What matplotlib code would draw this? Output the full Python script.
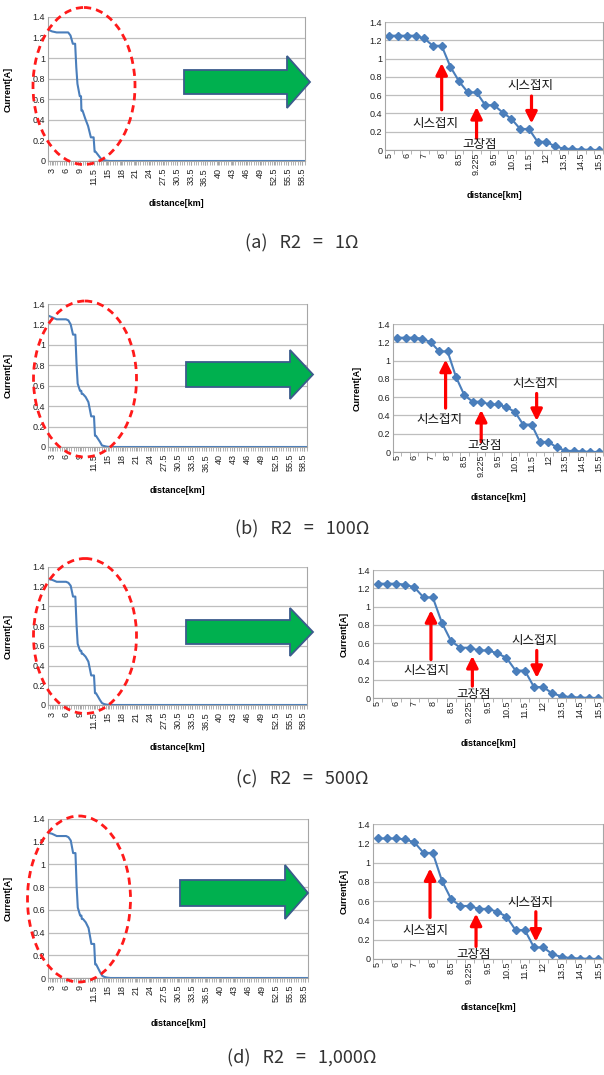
import numpy as np
import matplotlib
matplotlib.use('Agg')
import matplotlib.pyplot as plt
from matplotlib.patches import Ellipse, Polygon, FancyArrowPatch
from matplotlib.transforms import Affine2D
from matplotlib.ticker import FixedLocator, FuncFormatter

W, H = 604, 1075
plt.rcParams['font.family'] = ['Liberation Sans', 'Noto Sans CJK KR', 'DejaVu Sans']

# zoomed-in section (right charts), category axis
near_labels = ['5', '5.5', '6', '6.5', '7', '7.5', '8', '8.25', '8.5', '9', '9.225', '9.3', '9.5',
               '10', '10.5', '11', '11.5', '11.75', '12', '13', '13.5', '14', '14.5', '15', '15.5']
near_a = [1.25, 1.25, 1.25, 1.25, 1.22, 1.14, 1.14, 0.91, 0.75, 0.63, 0.63, 0.49, 0.49,
          0.41, 0.34, 0.23, 0.23, 0.09, 0.09, 0.04, 0.015, 0.01, 0.005, 0.002, 0.0]
near_b = [1.25, 1.25, 1.25, 1.24, 1.20, 1.10, 1.10, 0.82, 0.62, 0.55, 0.55, 0.52, 0.52,
          0.49, 0.44, 0.30, 0.30, 0.11, 0.11, 0.05, 0.015, 0.01, 0.005, 0.002, 0.0]
near_c = [1.25, 1.25, 1.25, 1.24, 1.21, 1.10, 1.10, 0.82, 0.62, 0.55, 0.55, 0.52, 0.52,
          0.49, 0.44, 0.30, 0.30, 0.12, 0.12, 0.05, 0.02, 0.01, 0.005, 0.002, 0.0]
near_d = [1.25, 1.25, 1.25, 1.24, 1.21, 1.10, 1.10, 0.81, 0.62, 0.55, 0.55, 0.52, 0.52,
          0.49, 0.44, 0.30, 0.30, 0.12, 0.12, 0.05, 0.02, 0.01, 0.005, 0.002, 0.0]

# full line (left charts)
left_ticks = [3, 6, 9, 11.5, 15, 18, 21, 24, 27.5, 30.5, 33.5, 36.5, 40, 43, 46, 49, 52.5, 55.5, 58.5]
head_dist = [2.0, 3.0, 4.0]
head_a = [1.28, 1.26, 1.25]
head_b = [1.29, 1.27, 1.25]
head_c = [1.28, 1.27, 1.25]
head_d = [1.28, 1.27, 1.25]
tail_dist = [16.0, 59.0]
tail_cur = [0.0, 0.0]

captions = ['(a)   R2   =   1\u03a9', '(b)   R2   =   100\u03a9',
            '(c)   R2   =   500\u03a9', '(d)   R2   =   1,000\u03a9']

# annotation spots: (x category, y) for sheath-ground up, fault, sheath-ground down
up_arrow = [(6.0, 0.44, 0.95), (5.76, 0.48, 1.01), (5.8, 0.42, 0.96), (5.7, 0.43, 0.94)]
up_text = [(5.3, 0.29), (5.0, 0.35), (5.3, 0.30), (5.2, 0.30)]
fault_arrow = [(10.0, 0.13, 0.47), (10.0, 0.11, 0.46), (10.3, 0.13, 0.46), (10.7, 0.13, 0.47)]
fault_text = [(10.4, 0.065), (10.4, 0.066), (10.4, 0.035), (10.4, 0.05)]
down_arrow = [(16.3, 0.59, 0.29), (16.6, 0.64, 0.34), (17.3, 0.52, 0.22), (17.2, 0.49, 0.18)]
down_text = [(16.2, 0.70), (16.4, 0.75), (17.1, 0.63), (16.6, 0.59)]

# layout in pixels (from top-left)
left_box = [(48, 305, 17, 161), (48, 307, 304, 447), (48, 307, 567, 705), (48, 308, 819, 978)]
right_box = [(385, 603, 22, 150), (393, 603, 324, 452), (373, 603, 570, 698), (373, 603, 824, 959)]
right_ylab = [None, 362, 349, 349]
left_xlab = [204, 491, 748, 1024]
right_xlab = [196, 497, 744, 1007]
ellipses = [(84, 86, 102, 157), (85, 379, 103, 156), (85, 636, 103, 155), (79, 899, 103, 166)]
green = [(184, 287, 70, 94, 56, 108, 310), (186, 290, 362, 387, 350, 399, 313),
         (186, 290, 620, 644, 608, 656, 313), (180, 285, 880, 906, 865, 919, 308)]
cap_y = [243, 529, 779, 1058]

LINE = '#4A7EBB'
GRID = '#BEBEBE'
SPINE = '#A6A6A6'

tick_idx = np.arange(len(left_ticks), dtype=float)
lt = np.array(left_ticks, dtype=float)


def fwd(x):
    x = np.asarray(x, float)
    y = np.interp(x, lt, tick_idx)
    lo = (x - lt[0]) / (lt[1] - lt[0])
    hi = tick_idx[-1] + (x - lt[-1]) / (lt[-1] - lt[-2])
    return np.where(x < lt[0], lo, np.where(x > lt[-1], hi, y))


def inv(u):
    u = np.asarray(u, float)
    x = np.interp(u, tick_idx, lt)
    lo = lt[0] + u * (lt[1] - lt[0])
    hi = lt[-1] + (u - tick_idx[-1]) * (lt[-1] - lt[-2])
    return np.where(u < 0, lo, np.where(u > tick_idx[-1], hi, x))


def box(b):
    x0, x1, y0, y1 = b
    return [x0 / W, 1 - y1 / H, (x1 - x0) / W, (y1 - y0) / H]


def style(ax):
    ax.set_ylim(0, 1.4)
    ax.set_yticks(np.arange(0, 1.41, 0.2))
    ax.yaxis.set_major_formatter(FuncFormatter(lambda v, p: f'{v:g}'))
    ax.grid(axis='y', color=GRID, lw=0.9)
    ax.set_axisbelow(True)
    for s in ax.spines.values():
        s.set_color(SPINE)
        s.set_linewidth(0.8)
    ax.spines['top'].set_visible(False)
    ax.tick_params(axis='y', length=0, labelsize=6.5, pad=2, labelcolor='#222222')
    ax.tick_params(axis='x', which='both', length=3, color=SPINE, labelsize=6.5,
                   labelcolor='#222222', pad=2)


fig = plt.figure(figsize=(W / 100, H / 100), dpi=100)
px = Affine2D().scale(1 / W, -1 / H).translate(0, 1) + fig.transFigure

heads = [head_a, head_b, head_c, head_d]
nears = [near_a, near_b, near_c, near_d]
near_dist = [float(s) for s in near_labels]
idx = np.arange(len(near_labels))

for i in range(4):
    # left: whole cable
    axL = fig.add_axes(box(left_box[i]))
    style(axL)
    dist = head_dist + near_dist + tail_dist
    cur = heads[i] + nears[i] + tail_cur
    axL.plot(dist, cur, color=LINE, lw=1.5)
    axL.set_xscale('function', functions=(fwd, inv))
    axL.set_xlim(float(inv(-0.29)), float(inv(18.24)))
    axL.set_xticks(left_ticks)
    axL.set_xticklabels([f'{v:g}' for v in left_ticks], rotation=90)
    axL.xaxis.set_minor_locator(FixedLocator(inv(np.arange(-0.29, 18.24, 1 / 6))))
    axL.set_ylabel('Current[A]', fontsize=6.5, fontweight='bold')
    axL.yaxis.set_label_coords(-(48 - 13) / (left_box[i][1] - 48), 0.5)
    axL.set_xlabel('distance[km]', fontsize=6.5, fontweight='bold')
    b = left_box[i]
    axL.xaxis.set_label_coords(0.5, -(left_xlab[i] - b[3]) / (b[3] - b[2]))
    axL.xaxis.label.set_va('center')

    # right: zoomed section
    axR = fig.add_axes(box(right_box[i]))
    style(axR)
    axR.plot(idx, nears[i], color=LINE, lw=1.5, marker='D', ms=3.6)
    axR.set_xlim(-0.5, len(idx) - 0.5)
    axR.set_xticks(idx[::2])
    axR.set_xticklabels(near_labels[::2], rotation=90)
    axR.tick_params(axis='x', which='major', length=0)
    axR.xaxis.set_minor_locator(FixedLocator(np.arange(-0.5, len(idx), 1)))
    axR.set_xlabel('distance[km]', fontsize=6.5, fontweight='bold')
    b = right_box[i]
    axR.xaxis.set_label_coords(0.5, -(right_xlab[i] - b[3]) / (b[3] - b[2]))
    axR.xaxis.label.set_va('center')
    if right_ylab[i] is not None:
        axR.set_ylabel('Current[A]', fontsize=6.5, fontweight='bold')
        axR.yaxis.set_label_coords(-(b[0] - right_ylab[i]) / (b[1] - b[0]), 0.5)

    for (x, y0, y1) in (up_arrow[i], fault_arrow[i], down_arrow[i]):
        axR.add_patch(FancyArrowPatch((x, y0), (x, y1), arrowstyle='-|>', mutation_scale=17,
                                      color='red', lw=2.3, shrinkA=0, shrinkB=0, zorder=5))
    for (x, y), t in zip((up_text[i], fault_text[i], down_text[i]), ('시스접지', '고장점', '시스접지')):
        axR.text(x, y, t, ha='center', va='center', fontsize=9,
                 family=['Noto Sans CJK KR', 'DejaVu Sans'], color='#111111', zorder=6)

    # red dashed ellipse + green block arrow
    cx, cy, ew, eh = ellipses[i]
    fig.add_artist(Ellipse((cx, cy), ew, eh, transform=px, fill=False, ec='#FF1A1A', lw=2,
                           ls=(0, (2.6, 1.8)), zorder=10))
    x0, xb, top, bot, htop, hbot, tip = green[i]
    mid = (top + bot) / 2
    fig.add_artist(Polygon([(x0, top), (xb, top), (xb, htop), (tip, mid), (xb, hbot), (xb, bot), (x0, bot)],
                           closed=True, transform=px, fc='#00B04F', ec='#3B5C8C', lw=1.3, zorder=10))

    fig.text(302 / W, 1 - cap_y[i] / H, captions[i], ha='center', va='center', fontsize=13,
             color='#333333', family=['Noto Sans CJK KR', 'DejaVu Sans'])

fig.savefig('out.png', dpi=100)
